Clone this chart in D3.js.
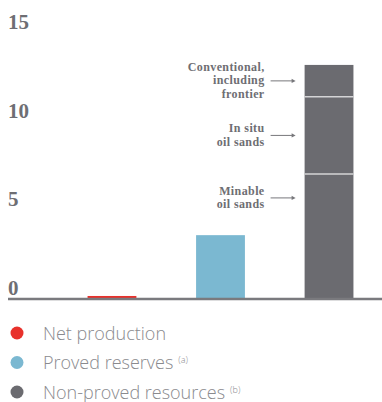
<!DOCTYPE html>
<html>
<head>
<meta charset="utf-8">
<script src="https://cdn.jsdelivr.net/npm/d3@7"></script>
<style>
  html, body { margin: 0; padding: 0; background: #fff; }
  svg { display: block; }
</style>
</head>
<body>
<svg id="chart" width="382" height="402"></svg>
<script>
// Billions of barrels
const categories = ["Net production", "Proved reserves", "Non-proved resources"];
const categoryValues = [0.17, 3.6, null];
const resourceSegments = ["Minable\noil sands", "In situ\noil sands", "Conventional,\nincluding\nfrontier"];
const resourceValues = [7.05, 4.35, 1.8];
const tickValues = [0, 5, 10, 15];
const legendNotes = ["", "(a)", "(b)"];

const colors = ["#e8312b", "#7bb8d1", "#6b6b70"];
const textGray = "#6e6e73";

const svg = d3.select("#chart");
const W = 382, H = 402;

const y = d3.scaleLinear().domain([0, 15]).range([299, 33]);
const x = d3.scaleBand().domain(categories).range([55, 386])
  .paddingInner(0.55).paddingOuter(0.3);

// Y tick labels sit just above their value
svg.append("g").selectAll("text").data(tickValues).join("text")
  .attr("x", 8)
  .attr("y", d => y(d) - 4)
  .attr("font-family", "'Liberation Serif', serif")
  .attr("font-weight", "bold")
  .attr("font-size", 21)
  .attr("fill", textGray)
  .text(d => d);

// Simple bars
const simple = categories.map((c, i) => ({ c, v: categoryValues[i], color: colors[i] }))
  .filter(d => d.v != null);
svg.append("g").selectAll("rect").data(simple).join("rect")
  .attr("x", d => x(d.c))
  .attr("width", x.bandwidth())
  .attr("y", d => y(d.v))
  .attr("height", d => y(0) - y(d.v))
  .attr("fill", d => d.color);

// Stacked non-proved resources bar
const stackData = [];
let acc = 0;
resourceValues.forEach((v, i) => {
  stackData.push({ label: resourceSegments[i], start: acc, end: acc + v });
  acc += v;
});
const gx = x(categories[2]);
svg.append("g").selectAll("rect").data(stackData).join("rect")
  .attr("x", gx)
  .attr("width", x.bandwidth())
  .attr("y", d => y(d.end))
  .attr("height", d => y(d.start) - y(d.end))
  .attr("fill", colors[2]);
// light dividers between segments
svg.append("g").selectAll("line").data(stackData.slice(1)).join("line")
  .attr("x1", gx).attr("x2", gx + x.bandwidth())
  .attr("y1", d => y(d.start)).attr("y2", d => y(d.start))
  .attr("stroke", "#d4d4d6").attr("stroke-width", 1.5);

// Segment annotations with arrows
const arrowX1 = gx - 34, arrowX2 = gx - 9;
const lineH = 13.4;
const ann = svg.append("g");
stackData.forEach((d, i) => {
  const mid = (d.start + d.end) / 2;
  // bottom label is lifted clear of the proved-reserves bar
  const ay = i === 0 ? y(Math.max(mid, categoryValues[1] + 2.1)) : y(mid);
  ann.append("line")
    .attr("x1", arrowX1).attr("x2", arrowX2 - 3)
    .attr("y1", ay).attr("y2", ay)
    .attr("stroke", "#77777b").attr("stroke-width", 1);
  ann.append("path")
    .attr("d", `M${arrowX2 - 4},${ay - 2.2}L${arrowX2},${ay}L${arrowX2 - 4},${ay + 2.2}Z`)
    .attr("fill", "#77777b");
  const lines = d.label.split("\n");
  lines.forEach((ln, k) => {
    ann.append("text")
      .attr("text-anchor", "end")
      .attr("font-family", "'Liberation Serif', serif")
      .attr("font-weight", "bold")
      .attr("font-size", 12)
      .attr("letter-spacing", 0.4)
      .attr("fill", textGray)
      .attr("x", arrowX1 - 6)
      .attr("y", ay - (lines.length - 1) / 2 * lineH + 3.5 + k * lineH)
      .text(ln);
  });
});

// Baseline
svg.append("line")
  .attr("x1", 8).attr("x2", W)
  .attr("y1", y(0)).attr("y2", y(0))
  .attr("stroke", "#7a7a7e").attr("stroke-width", 2.5);

// Legend
const legend = svg.append("g").selectAll("g").data(categories).join("g")
  .attr("transform", (d, i) => `translate(0, ${333 + i * 29.5})`);
legend.append("circle")
  .attr("cx", 17).attr("cy", 0).attr("r", 6.5)
  .attr("fill", (d, i) => colors[i]);
const lt = legend.append("text")
  .attr("x", 43).attr("y", 6.5)
  .attr("font-family", "'Open Sans', 'Liberation Sans', sans-serif")
  .attr("font-weight", 300)
  .attr("font-size", 18)
  .attr("fill", "#8a8a8e");
lt.append("tspan").text(d => d);
lt.append("tspan")
  .attr("dx", 5).attr("dy", -6)
  .attr("font-size", 9)
  .text((d, i) => legendNotes[i]);
</script>
</body>
</html>
